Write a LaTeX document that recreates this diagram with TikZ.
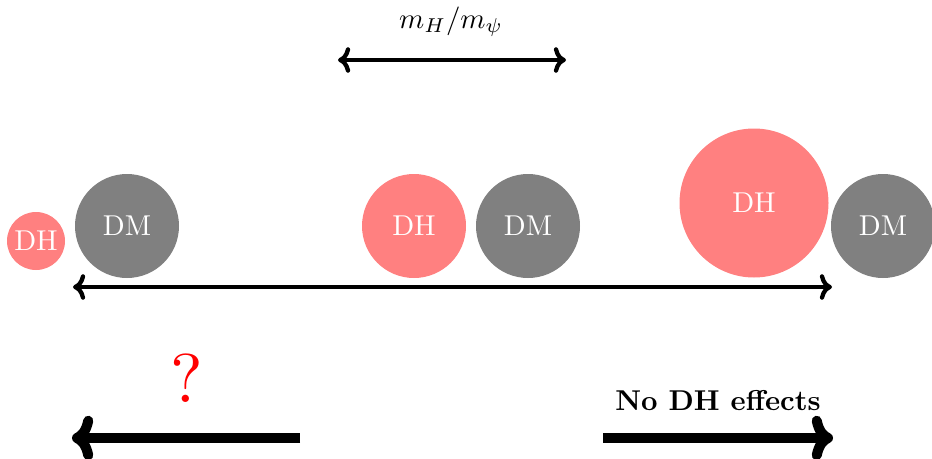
\documentclass[tikz,border=0pt]{standalone}
\usetikzlibrary{arrows.meta}
\newcommand\bigt[1]{\scalebox{2.87}{#1}}
\begin{document}
\begin{tikzpicture}[x=1pt,y=-1pt,
  blob/.style={circle,inner sep=0pt,text=white},
  dh/.style={blob,fill={rgb,255:red,255;green,128;blue,128}},
  dm/.style={blob,fill={rgb,255:red,128;green,128;blue,128}},
  arr/.style={line width=4.3pt,{To[scale=1.1]}-{To[scale=1.1]}},
  fat/.style={line width=10pt,-{To[scale=0.9]}}]
\useasboundingbox (0,0) rectangle (932,458);
% top arrow
\coordinate (t1) at (338,60);
\coordinate (t2) at (566,60);
\draw[arr] (t1) -- (t2);
\node (lab) at (451,22) {\bigt{$m_H/m_\psi$}};
% circles
\node[dh,minimum size=58] (dh1) at (36,241) {\bigt{DH}};
\node[dm,minimum size=104] (dm1) at (127,226) {\bigt{DM}};
\node[dh,minimum size=104] (dh2) at (414,226) {\bigt{DH}};
\node[dm,minimum size=104] (dm2) at (528,226) {\bigt{DM}};
\node[dh,minimum size=149] (dh3) at (754,203) {\bigt{DH}};
\node[dm,minimum size=104] (dm3) at (883,226) {\bigt{DM}};
% long arrow
\coordinate (l1) at (73,287);
\coordinate (l2) at (832,287);
\draw[arr] (l1) -- (l2);
% bottom arrows
\coordinate (b1s) at (300,438);
\coordinate (b1e) at (72,438);
\draw[fat] (b1s) -- (b1e);
\coordinate (b2s) at (603,438);
\coordinate (b2e) at (833,438);
\draw[fat] (b2s) -- (b2e);
\node[text=red] (q) at (187,378) {\scalebox{6.9}{?}};
\node (nd) at (718,401) {\bigt{\bfseries No DH effects}};
\end{tikzpicture}
\end{document}
